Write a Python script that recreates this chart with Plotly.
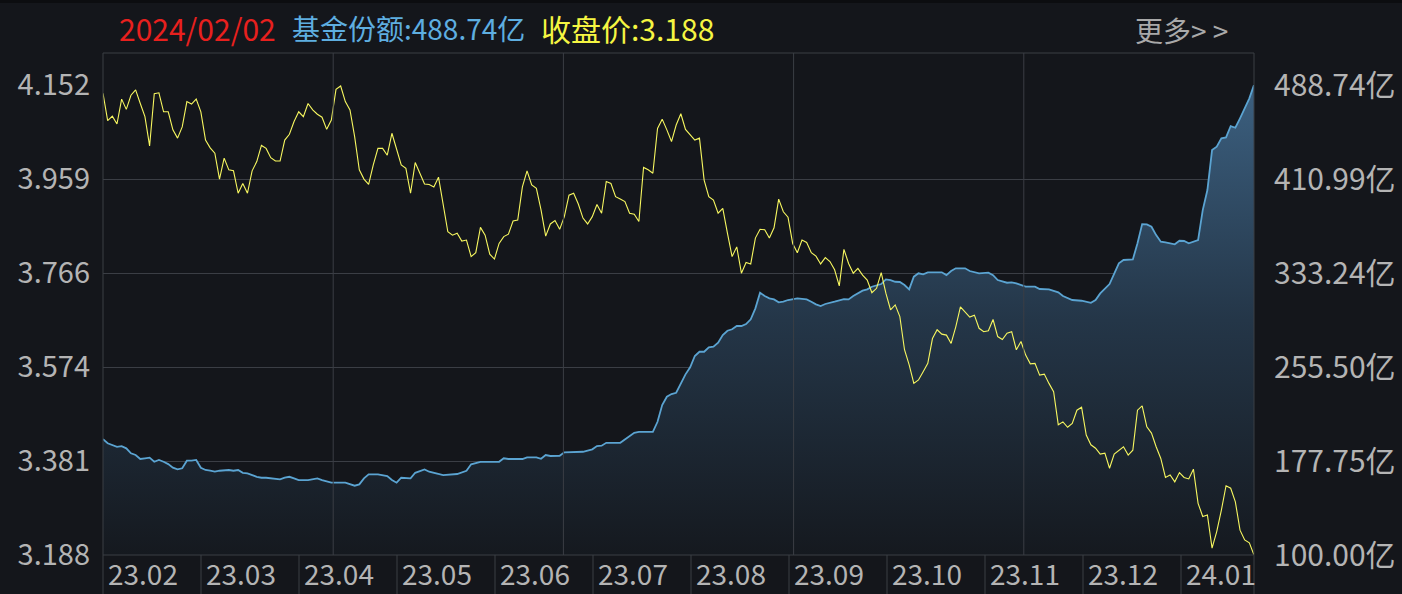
import plotly.graph_objects as go

# ---------------- data ----------------
price = [
    4.135, 4.079, 4.088, 4.072, 4.123, 4.102, 4.131, 4.142, 4.114, 4.087,
    4.027, 4.134, 4.136, 4.097, 4.097, 4.060, 4.043, 4.066, 4.118, 4.113,
    4.123, 4.097, 4.039, 4.023, 4.012, 3.959, 4.002, 3.978, 3.976, 3.930,
    3.950, 3.930, 3.976, 3.995, 4.028, 4.022, 4.003, 3.996, 3.996, 4.039,
    4.051, 4.077, 4.097, 4.087, 4.114, 4.101, 4.092, 4.086, 4.061, 4.080,
    4.143, 4.150, 4.118, 4.101, 4.046, 3.978, 3.959, 3.948, 3.988, 4.022,
    4.022, 4.008, 4.053, 4.019, 3.988, 3.981, 3.930, 3.993, 3.971, 3.949,
    3.948, 3.943, 3.963, 3.909, 3.851, 3.844, 3.848, 3.832, 3.834, 3.800,
    3.808, 3.860, 3.844, 3.805, 3.795, 3.827, 3.841, 3.846, 3.873, 3.875,
    3.943, 3.976, 3.947, 3.940, 3.896, 3.842, 3.867, 3.874, 3.856, 3.882,
    3.926, 3.930, 3.908, 3.879, 3.867, 3.882, 3.907, 3.889, 3.954, 3.950,
    3.923, 3.918, 3.913, 3.889, 3.887, 3.872, 3.983, 3.978, 3.971, 4.063,
    4.082, 4.060, 4.036, 4.070, 4.093, 4.061, 4.049, 4.039, 4.043, 3.957,
    3.923, 3.916, 3.889, 3.899, 3.848, 3.800, 3.820, 3.766, 3.788, 3.785,
    3.838, 3.856, 3.855, 3.838, 3.859, 3.918, 3.892, 3.881, 3.827, 3.808,
    3.834, 3.829, 3.808, 3.801, 3.785, 3.798, 3.790, 3.773, 3.740, 3.815,
    3.786, 3.766, 3.776, 3.762, 3.752, 3.726, 3.735, 3.767, 3.725, 3.691,
    3.701, 3.677, 3.609, 3.578, 3.540, 3.547, 3.564, 3.581, 3.632, 3.650,
    3.641, 3.639, 3.622, 3.656, 3.697, 3.687, 3.676, 3.680, 3.653, 3.646,
    3.648, 3.671, 3.636, 3.630, 3.643, 3.646, 3.609, 3.626, 3.598, 3.580,
    3.581, 3.557, 3.559, 3.540, 3.523, 3.455, 3.461, 3.450, 3.458, 3.485,
    3.491, 3.434, 3.414, 3.407, 3.395, 3.397, 3.366, 3.395, 3.403, 3.410,
    3.393, 3.403, 3.485, 3.494, 3.451, 3.438, 3.410, 3.386, 3.347, 3.352,
    3.338, 3.357, 3.347, 3.344, 3.364, 3.294, 3.267, 3.270, 3.202, 3.236,
    3.280, 3.330, 3.325, 3.297, 3.239, 3.219, 3.213, 3.188,
]
price_day = list(range(len(price)))

share_day = [
    0, 1, 3, 4, 5, 6, 7, 8, 9, 10, 11, 12, 13, 14, 15, 16, 17, 18, 19, 20,
    21, 22, 23, 24, 25, 27, 28, 29, 30, 31, 33, 34, 35, 37, 38, 39, 40, 41, 42, 44,
    46, 47, 48, 49, 51, 52, 54, 55, 56, 57, 59, 61, 62, 63, 64, 66, 67, 69, 70, 71,
    73, 76, 78, 79, 81, 85, 86, 87, 90, 91, 93, 94, 95, 96, 98, 99, 101, 103, 105, 106,
    107, 108, 111, 112, 114, 115, 118, 119, 120, 121, 122, 123, 124, 125, 126, 127, 128, 129, 130, 131,
    132, 133, 134, 135, 136, 137, 138, 139, 140, 141, 142, 143, 144, 145, 146, 147, 149, 151, 152, 153,
    154, 155, 157, 159, 160, 161, 163, 164, 165, 167, 168, 169, 170, 171, 172, 173, 174, 175, 176, 177,
    180, 181, 182, 183, 185, 186, 188, 190, 191, 192, 194, 195, 196, 198, 200, 201, 203, 205, 206, 208,
    210, 212, 213, 214, 216, 217, 218, 219, 221, 222, 223, 224, 225, 226, 227, 228, 230, 231, 232, 233,
    234, 235, 236, 237, 238, 239, 240, 241, 242, 243, 244, 245, 246, 247,
]
share = [
    195.9, 192.4, 189.5, 190.1, 188.2, 184.1, 182.7, 179.4, 180.0, 180.5, 177.1, 178.6, 177.1, 175.2, 172.2, 170.8, 171.7, 178.0, 178.0, 178.6,
    172.2, 170.3, 169.7, 168.9, 169.7, 170.3, 169.7, 170.3, 168.0, 167.5, 164.7, 163.9, 163.9, 163.1, 162.6, 163.9, 164.7, 163.4, 162.0, 162.0,
    163.4, 162.0, 161.2, 159.8, 159.8, 159.8, 157.3, 158.4, 163.4, 166.7, 166.7, 165.3, 162.0, 159.8, 163.9, 163.4, 168.0, 170.8, 168.9, 168.0,
    166.1, 167.0, 169.7, 175.0, 177.1, 177.1, 180.0, 179.4, 179.4, 180.8, 180.8, 179.6, 182.7, 181.9, 182.1, 184.9, 185.4, 185.4, 187.4, 190.1,
    190.4, 192.8, 192.8, 195.7, 201.1, 201.9, 201.9, 210.2, 224.0, 230.9, 233.1, 234.2, 241.4, 249.4, 255.2, 264.6, 268.1, 268.1, 271.7, 272.3,
    275.6, 281.9, 285.5, 286.7, 289.4, 289.4, 291.0, 294.9, 304.0, 316.9, 314.2, 312.3, 311.4, 309.0, 309.5, 310.9, 312.3, 311.4, 309.5, 307.3,
    305.9, 307.6, 309.5, 311.7, 311.4, 314.2, 318.6, 319.7, 321.9, 324.1, 328.0, 327.4, 326.0, 325.8, 323.3, 319.7, 330.2, 333.0, 332.2, 333.8,
    333.8, 331.5, 334.9, 337.1, 337.1, 334.9, 333.0, 333.5, 331.5, 327.4, 325.2, 325.5, 324.7, 321.9, 321.9, 320.0, 319.7, 317.2, 314.2, 310.9,
    310.3, 308.6, 310.9, 316.4, 324.1, 333.0, 341.2, 344.0, 344.5, 357.8, 373.7, 373.5, 371.5, 364.6, 359.1, 358.6, 357.0, 359.9, 359.7, 357.8,
    359.1, 360.5, 385.3, 401.9, 434.9, 437.7, 444.6, 445.4, 454.8, 453.4, 461.2, 469.4, 477.7, 488.74,
]

price_ticks = [3.188, 3.381, 3.574, 3.766, 3.959, 4.152]
share_ticks = [100.00, 177.75, 255.50, 333.24, 410.99, 488.74]
month_labels = ["23.02", "23.03", "23.04", "23.05", "23.06", "23.07",
                "23.08", "23.09", "23.10", "23.11", "23.12", "24.01"]
header_date = "2024/02/02"
header_share = "基金份额:488.74亿"
header_price = "收盘价:3.188"
more_text = "更多&gt; &gt;"

# ---------------- layout constants ----------------
W, H = 1402, 594
L, R, T, B = 103, 148, 85, 39
PW, PH = W - L - R, H - T - B
BG = "#14161b"
GRID = "#3b3e45"
TXT = "#b4b4b4"
FONT = "Noto Sans CJK SC"


def fx(p):
    return (p - L) / PW


def fy(p):
    return (H - B - p) / PH


fig = go.Figure()
fig.add_trace(go.Scatter(
    x=share_day, y=share, yaxis="y", mode="lines",
    line=dict(color="#5ba4d2", width=1.8),
    fill="tozeroy",
    fillgradient=dict(type="vertical", start=share_ticks[0], stop=share_ticks[-1],
                      colorscale=[[0, "rgb(21,25,31)"], [0.5, "rgb(36,54,72)"], [1, "rgb(60,96,128)"]]),
    hoverinfo="skip", showlegend=False,
))
fig.add_trace(go.Scatter(
    x=price_day, y=price, yaxis="y2", mode="lines",
    line=dict(color="#f7f760", width=1.1),
    hoverinfo="skip", showlegend=False,
))

shapes = []
line = dict(color=GRID, width=1)
# frame
shapes.append(dict(type="line", xref="paper", yref="paper", x0=0, x1=1, y0=fy(53), y1=fy(53), line=line))
shapes.append(dict(type="line", xref="paper", yref="paper", x0=0, x1=1, y0=0, y1=0, line=line))
shapes.append(dict(type="line", xref="paper", yref="paper", x0=0, x1=0, y0=fy(H), y1=fy(53), line=line))
shapes.append(dict(type="line", xref="paper", yref="paper", x0=1, x1=1, y0=fy(H), y1=fy(53), line=line))
# vertical grid (5 equal parts)
for k in range(1, 5):
    shapes.append(dict(type="line", xref="paper", yref="paper", x0=k / 5, x1=k / 5, y0=0, y1=fy(53), line=line))
# label band separators
cell = 98
for i in range(1, len(month_labels)):
    xs = fx(L + i * cell)
    shapes.append(dict(type="line", xref="paper", yref="paper", x0=xs, x1=xs, y0=fy(H), y1=0, line=line))
# dark top strip
shapes.append(dict(type="rect", xref="paper", yref="paper", x0=fx(0), x1=fx(W), y0=fy(0), y1=fy(3),
                   fillcolor="#0c0d10", line=dict(width=0), layer="below"))

annotations = []
for i, lab in enumerate(month_labels):
    annotations.append(dict(x=fx(L + i * cell + 3), y=fy(573), xref="paper", yref="paper",
                            text=lab, showarrow=False, xanchor="left", yanchor="middle",
                            font=dict(family=FONT, size=28, color=TXT)))
annotations.append(dict(x=fx(117), y=fy(28), xref="paper", yref="paper", text=header_date,
                        showarrow=False, xanchor="left", yanchor="middle",
                        font=dict(family=FONT, size=30, color="#e8201e")))
annotations.append(dict(x=fx(290), y=fy(28), xref="paper", yref="paper", text=header_share,
                        showarrow=False, xanchor="left", yanchor="middle",
                        font=dict(family=FONT, size=28, color="#5eaee0")))
annotations.append(dict(x=fx(539), y=fy(28), xref="paper", yref="paper", text=header_price,
                        showarrow=False, xanchor="left", yanchor="middle",
                        font=dict(family=FONT, size=30, color="#f5f542")))
annotations.append(dict(x=fx(1133), y=fy(30), xref="paper", yref="paper", text=more_text,
                        showarrow=False, xanchor="left", yanchor="middle",
                        font=dict(family=FONT, size=28, color="#a9a9a9")))

fig.update_layout(
    width=W, height=H,
    margin=dict(l=L, r=R, t=T, b=B, pad=0, autoexpand=False),
    paper_bgcolor=BG, plot_bgcolor=BG,
    xaxis=dict(range=[0, len(price) - 1], showgrid=False, zeroline=False, automargin=False,
               showticklabels=False, ticks="", showline=False, fixedrange=True),
    yaxis=dict(range=[share_ticks[0], share_ticks[-1]], side="right", automargin=False,
               tickvals=share_ticks, ticktext=[f"{v:.2f}亿" for v in share_ticks],
               showgrid=True, gridcolor=GRID, gridwidth=1, zeroline=False, showline=False,
               ticks="", ticklabelstandoff=19,
               tickfont=dict(family=FONT, size=30, color=TXT)),
    yaxis2=dict(range=[price_ticks[0], price_ticks[-1]], side="left", overlaying="y",
                automargin=False,
                tickvals=price_ticks, ticktext=[f"{v:.3f}" for v in price_ticks],
                showgrid=False, zeroline=False, showline=False, ticks="", ticklabelstandoff=12,
                tickfont=dict(family=FONT, size=29, color=TXT)),
    shapes=shapes, annotations=annotations,
    showlegend=False,
)

fig.write_html(
    "out.html",
    config={"displayModeBar": False},
    post_script="document.body.style.margin='0';document.body.style.overflow='hidden';"
                "document.body.style.background='" + BG + "';",
)
